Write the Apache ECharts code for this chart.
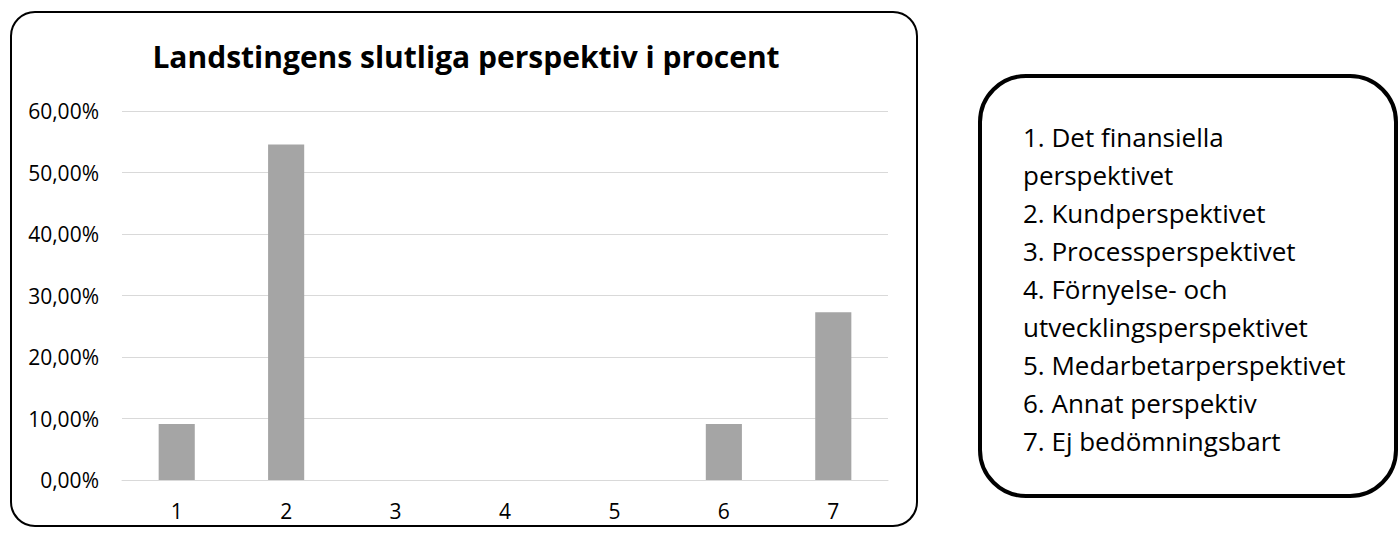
<!DOCTYPE html>
<html>
<head>
<meta charset="utf-8">
<script src="https://cdn.jsdelivr.net/npm/echarts@6/dist/echarts.min.js"></script>
<style>
html,body{margin:0;padding:0;background:#fff;}
#chart{width:1400px;height:535px;}
</style>
</head>
<body>
<div id="chart"></div>
<script>
const chartTitle = 'Landstingens slutliga perspektiv i procent';
const categories = ['1', '2', '3', '4', '5', '6', '7'];
const shares = [0.0909, 0.5455, 0, 0, 0, 0.0909, 0.2727];
const legendLines = [
  '1. Det finansiella',
  'perspektivet',
  '2. Kundperspektivet',
  '3. Processperspektivet',
  '4. Förnyelse- och',
  'utvecklingsperspektivet',
  '5. Medarbetarperspektivet',
  '6. Annat perspektiv',
  '7. Ej bedömningsbart'
];

const FONT = 'Open Sans';
const chart = echarts.init(document.getElementById('chart'), null, {renderer: 'svg'});
chart.setOption({
  backgroundColor: '#ffffff',
  animation: false,
  title: {
    text: chartTitle,
    left: 461,
    textAlign: 'center',
    top: 36,
    textStyle: {fontFamily: FONT, fontWeight: 'bold', fontSize: 30, color: '#000'}
  },
  grid: {left: 122, right: 512, top: 111, bottom: 55},
  xAxis: {
    type: 'category',
    data: categories,
    axisLine: {show: true, lineStyle: {color: '#D9D9D9', width: 1}},
    axisTick: {show: false},
    axisLabel: {fontFamily: FONT, fontSize: 21, color: '#000', margin: 20}
  },
  yAxis: {
    type: 'value',
    min: 0, max: 0.6, interval: 0.1,
    axisLine: {show: false},
    axisTick: {show: false},
    splitLine: {lineStyle: {color: '#D9D9D9', width: 1}},
    axisLabel: {
      fontFamily: FONT, fontSize: 21, color: '#000', margin: 23,
      formatter: v => (v * 100).toFixed(2).replace('.', ',') + '%'
    }
  },
  series: [{
    type: 'bar',
    data: shares,
    barWidth: '33%',
    itemStyle: {color: '#A5A5A5'}
  }],
  graphic: [
    {
      type: 'rect', silent: true, z: -1,
      shape: {x: 11, y: 12, width: 906, height: 514, r: 24},
      style: {fill: 'none', stroke: '#000', lineWidth: 2}
    },
    {
      type: 'rect', silent: true,
      shape: {x: 980, y: 76, width: 416, height: 420, r: 46},
      style: {fill: '#fff', stroke: '#000', lineWidth: 4}
    },
    {
      type: 'text', silent: true,
      x: 1023, y: 118,
      style: {
        text: legendLines.join('\n'),
        fontFamily: FONT, fontSize: 26, lineHeight: 38, fill: '#000',
        verticalAlign: 'top'
      }
    }
  ]
});
</script>
</body>
</html>
